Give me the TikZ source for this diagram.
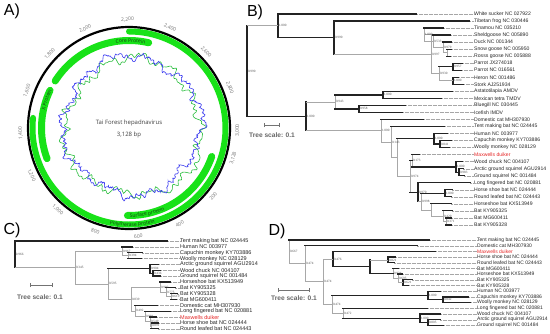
\documentclass[tikz,border=0pt]{standalone}
\usepackage{fontspec}
\setmainfont{Liberation Sans}
\newfontfamily\osans{Open Sans}
\newfontfamily\tser{Liberation Serif}
\usetikzlibrary{decorations.text}
\definecolor{gband}{RGB}{24,226,24}
\definecolor{gctext}{RGB}{20,60,20}
\definecolor{gcblue}{RGB}{60,60,240}
\definecolor{gcgreen}{RGB}{40,190,60}
\definecolor{brgray}{RGB}{168,168,168}
\definecolor{brdark}{RGB}{35,35,35}
\definecolor{duiker}{RGB}{230,40,40}
\newcommand{\Lf}[5]{\coordinate (#1) at (#2,#3);\node[lab] (#1t) at (#4,#3) {#5};\draw[leader] (#1) -- (#1t.west);}
\newcommand{\Tn}[6]{\draw[#4] (#1 |- #2) -- (#1 |- #3);\draw[#5] (#1 |- #2) -- (#2);\draw[#6] (#1 |- #3) -- (#3);}
\newcommand{\Bs}[2]{\node[bs] (#1b) at (#1) {#2};}
\begin{document}
\pgfmathsetseed{17}
\begin{tikzpicture}[x=1pt,y=-1pt,
  declare function={
    gb(\t)=68.5+3*cos(\t)+2.5*sin(\t)+2.4*sin(4*\t+40)+2.6*sin(11*\t+10)+1.9*sin(23*\t+70)+1.3*sin(41*\t)+1.0*sin(83*\t+20)+0.8*rand;
    gg(\t)=68+4.5*cos(\t)+3*sin(3*\t+200)+3.2*sin(13*\t+100)+1.9*sin(29*\t)+1.3*sin(57*\t+50)+0.9*sin(79*\t+30)+0.3*rand;},
  lab/.style={anchor=west, inner sep=0pt, font=\fontsize{5.1}{6}\selectfont, text=black!85},
  bs/.style={anchor=west, inner sep=0.4pt, xshift=0.4pt, font=\tser\fontsize{3.3}{4}\selectfont, text=black!70},
  lg/.style={brgray, line width=0.8pt, line cap=rect},
  dk/.style={brdark, line width=1.3pt, line cap=rect},
  leader/.style={black!35, line width=0.35pt, dash pattern=on 0.35pt off 0.9pt},
  scl/.style={font=\bfseries\fontsize{6.6}{7}\selectfont, text=black!60, inner sep=0pt},
  scb/.style={black!55, line width=0.7pt},
  panel/.style={font=\fontsize{16}{18}\selectfont, inner sep=0pt},
  tick/.style={font=\osans\fontsize{5}{6}\selectfont, text=black!55, inner sep=0pt},
  band/.style={gband, line cap=round}
]
\useasboundingbox (0,0) rectangle (550,333);
\fill[white] (0,0) rectangle (550,333);

% ---------------- Panel A ----------------
\node[panel] (pA) at (12,11) {A)};
\begin{scope}[shift={(129,128)}]
  \draw[gcgreen, line width=0.6pt] plot[domain=-180:180, samples=360] ({gg(\x)*cos(\x)},{-gg(\x)*sin(\x)});
  \draw[gcblue, line width=0.6pt] plot[domain=-180:180, samples=700] ({gb(\x)*cos(\x)},{-gb(\x)*sin(\x)});
  \draw[black, line width=2.2pt] (0,0) circle[radius=101pt];
  \draw[band, line width=6pt] (90:96.5pt) arc[start angle=90, end angle=-186, radius=96.5pt];
  \draw[band, line width=7pt] (147.5:87.5pt) arc[start angle=147.5, end angle=77, radius=87.5pt];
  \draw[band, line width=7pt] (200.5:87.5pt) arc[start angle=200.5, end angle=154.5, radius=87.5pt];
  \draw[band, line width=7pt] (-19:87.5pt) arc[start angle=-19, end angle=-91, radius=87.5pt];
  \path[decorate, decoration={text along path, text align=center, text color=gctext,
     text={|\osans\fontsize{5}{6}\selectfont|Core Protein}}]
     (119:85.8pt) arc[start angle=119, end angle=59, radius=85.8pt];
  \path[decorate, decoration={text along path, text align=center, text color=gctext,
     text={|\osans\fontsize{5}{6}\selectfont|X Protein}}]
     (191:85.8pt) arc[start angle=191, end angle=131, radius=85.8pt];
  \path[decorate, decoration={text along path, text align=center, text color=gctext,
     text={|\osans\fontsize{5}{6}\selectfont|Polymerase protein}}]
     (-128:98.2pt) arc[start angle=-128, end angle=-48, radius=98.2pt];
  \path[decorate, decoration={text along path, text align=center, text color=gctext,
     text={|\osans\fontsize{5}{6}\selectfont|Surface protein}}]
     (-108:89.3pt) arc[start angle=-108, end angle=-48, radius=89.3pt];
  \foreach \p/\t [count=\i] in {200/200,400/400,600/600,800/800,1000/{1,000},1200/{1,200},1400/{1,400},1600/{1,600},1800/{1,800},2000/{2,000},2200/{2,200},2400/{2,400},2600/{2,600},2800/{2,800},3000/{3,000},3128/{3,128}}{
    \pgfmathsetmacro\an{mod(-16-0.11509*\p+720,360)}
    \pgfmathsetmacro\rot{(\an>0 && \an<190) ? \an-90 : \an+90}
    \node[tick, rotate=\rot] (tk\i) at (\an:108.5pt) {\t};
  }
  \node[font=\osans\fontsize{6}{7}\selectfont, text=black!75, inner sep=0pt] (ttl) at (0,-5) {Tai Forest hepadnavirus};
  \node[font=\osans\fontsize{6}{7}\selectfont, text=black!75, inner sep=0pt] (tbp) at (0,7) {3,128 bp};
\end{scope}

% ---------------- Panel B ----------------
\node[panel] (pB) at (255,12.5) {B)};
\Lf{bwsk}{416}{14.0}{474}{White sucker NC 027922}
\Lf{btfr}{469}{21.0}{474}{Tibetan frog NC 030446}
\Lf{btin}{443}{28.1}{474}{Tinamou NC 035210}
\Lf{bshe}{450}{35.1}{474}{Sheldgoose NC 005890}
\Lf{bduc}{451}{42.1}{474}{Duck NC 001344}
\Lf{bsng}{451}{49.2}{474}{Snow goose NC 005950}
\Lf{brsg}{450}{56.2}{474}{Rosss goose NC 005888}
\Lf{bpa1}{462}{63.2}{474}{Parrot JX274018}
\Lf{bpa2}{461}{70.2}{474}{Parrot NC 016561}
\Lf{bher}{458}{77.3}{474}{Heron NC 001486}
\Lf{bsto}{463}{84.3}{474}{Stork AJ251934}
\Lf{bast}{452}{91.3}{474}{Astatotilapia AMDV}
\Lf{bmex}{441}{98.4}{474}{Mexican tetra TMDV}
\Lf{bblu}{405}{105.4}{474}{Bluegill NC 030445}
\Lf{bice}{402}{112.4}{474}{Icefish IMDV}
\Lf{bdca}{423}{119.5}{474}{Domestic cat MH307930}
\Lf{btmb}{444}{126.5}{474}{Tent making bat NC 024445}
\Lf{bhum}{447}{133.5}{474}{Human NC 003977}
\Lf{bcap}{451}{140.5}{474}{Capuchin monkey KY703886}
\Lf{bwoo}{449}{147.6}{474}{Woolly monkey NC 028129}
\Lf{bmax}{419}{154.6}{474}{\color{duiker}Maxwells duiker}
\Lf{bwch}{462}{161.6}{474}{Wood chuck NC 004107}
\Lf{barc}{463}{168.7}{474}{Arctic ground squirrel AGU2914}
\Lf{bgrs}{464}{175.7}{474}{Ground squirrel NC 001484}
\Lf{blfb}{470}{182.7}{474}{Long fingered bat NC 020881}
\Lf{bhsb}{452}{189.8}{474}{Horse shoe bat NC 024444}
\Lf{brlb}{451}{196.8}{474}{Round leafed bat NC 024443}
\Lf{bkx}{451}{203.8}{474}{Horseshoe bat KX513949}
\Lf{bb25}{452}{210.8}{474}{Bat KY905325}
\Lf{bb11}{451}{217.9}{474}{Bat MG600411}
\Lf{bb28}{451}{224.9}{474}{Bat KY905328}
\coordinate (bN4) at (447,52.7);
\coordinate (bN3) at (443,47.4);
\coordinate (bN2) at (433,41.3);
\coordinate (bN1) at (424,34.7);
\coordinate (bP) at (453,66.7);
\coordinate (bHS) at (453,80.8);
\coordinate (bPHS) at (439,73.8);
\coordinate (bN5) at (431,54.2);
\coordinate (bA2) at (334,37.6);
\coordinate (bA) at (278,25.8);
\coordinate (bFA) at (383,94.9);
\coordinate (bFB) at (359,108.9);
\coordinate (bF) at (335,101.9);
\coordinate (bPRc) at (440,144.1);
\coordinate (bPR) at (434,138.8);
\coordinate (bRo2) at (459,172.2);
\coordinate (bRo) at (456,166.9);
\coordinate (bN173) at (412,160.8);
\coordinate (bHR) at (445,193.3);
\coordinate (bQ371) at (446,221.4);
\coordinate (bQ420) at (443,216.1);
\coordinate (bKXB) at (431,210.0);
\coordinate (bN998) at (421,201.7);
\coordinate (bB1) at (418,192.2);
\coordinate (bN974) at (410,176.5);
\coordinate (bNr) at (397,157.7);
\coordinate (bN143) at (391,142.1);
\coordinate (bMm) at (381,130.8);
\coordinate (bM) at (306,116.4);
\coordinate (bR) at (247,71.1);
\Tn{bN4}{bsng}{brsg}{lg}{dk}{dk}
\Tn{bN3}{bduc}{bN4}{lg}{dk}{lg}
\Tn{bN2}{bshe}{bN3}{lg}{dk}{lg}
\Tn{bN1}{btin}{bN2}{lg}{dk}{lg}
\Tn{bP}{bpa1}{bpa2}{dk}{dk}{dk}
\Tn{bHS}{bher}{bsto}{dk}{dk}{dk}
\Tn{bPHS}{bP}{bHS}{lg}{dk}{lg}
\Tn{bN5}{bN1}{bPHS}{lg}{lg}{lg}
\Tn{bA2}{btfr}{bN5}{dk}{dk}{lg}
\Tn{bA}{bwsk}{bA2}{dk}{dk}{dk}
\Tn{bFA}{bast}{bmex}{dk}{dk}{dk}
\Tn{bFB}{bblu}{bice}{dk}{dk}{dk}
\Tn{bF}{bFA}{bFB}{lg}{dk}{dk}
\Tn{bPRc}{bcap}{bwoo}{dk}{dk}{dk}
\Tn{bPR}{bhum}{bPRc}{dk}{dk}{dk}
\Tn{bRo2}{barc}{bgrs}{dk}{dk}{dk}
\Tn{bRo}{bwch}{bRo2}{dk}{dk}{dk}
\Tn{bN173}{bmax}{bRo}{lg}{dk}{dk}
\Tn{bHR}{bhsb}{brlb}{dk}{dk}{dk}
\Tn{bQ371}{bb11}{bb28}{lg}{dk}{dk}
\Tn{bQ420}{bb25}{bQ371}{lg}{dk}{lg}
\Tn{bKXB}{bkx}{bQ420}{lg}{dk}{lg}
\Tn{bN998}{bHR}{bKXB}{lg}{dk}{lg}
\Tn{bB1}{blfb}{bN998}{dk}{dk}{lg}
\Tn{bN974}{bN173}{bB1}{lg}{dk}{dk}
\Tn{bNr}{bPR}{bN974}{lg}{dk}{lg}
\Tn{bN143}{btmb}{bNr}{lg}{dk}{lg}
\Tn{bMm}{bdca}{bN143}{lg}{dk}{lg}
\Tn{bM}{bF}{bMm}{dk}{lg}{lg}
\Tn{bR}{bA}{bM}{dk}{lg}{dk}
\Bs{bN3}{0.979}\Bs{bN2}{0.533}\Bs{bN1}{1.000}\Bs{bP}{0.957}\Bs{bHS}{1.000}
\Bs{bPHS}{0.930}\Bs{bN5}{0.997}\Bs{bA2}{0.990}\Bs{bA}{1.000}\Bs{bFA}{1.000}
\Bs{bFB}{0.958}\Bs{bF}{0.943}\Bs{bPRc}{0.841}\Bs{bPR}{1.000}\Bs{bRo2}{0.983}
\Bs{bRo}{1.000}\Bs{bN173}{0.173}\Bs{bHR}{1.000}\Bs{bQ371}{0.371}\Bs{bQ420}{0.420}
\Bs{bN998}{0.998}\Bs{bB1}{0.970}\Bs{bN974}{0.974}\Bs{bN143}{0.143}\Bs{bMm}{1.000}
\Bs{bM}{1.000}\Bs{bR}{0.990}
\coordinate (bs1) at (264,125);
\coordinate (bs2) at (279,125);
\draw[scb] (bs1) -- (bs2);
\draw[scb] ([yshift=-2pt]bs1) -- ([yshift=2pt]bs1);
\draw[scb] ([yshift=-2pt]bs2) -- ([yshift=2pt]bs2);
\node[scl] (bst) at (272,135) {Tree scale: 0.1};

% ---------------- Panel C ----------------
\node[panel] (pC) at (12,230.5) {C)};
\begin{scope}[lab/.style={anchor=west, inner sep=0pt, font=\fontsize{5.5}{6}\selectfont, text=black!85}]
\Lf{cTm}{167}{241.0}{180}{Tent making bat NC 024445}
\Lf{chu}{132}{246.9}{180}{Human NC 003977}
\Lf{cca}{142}{252.7}{180}{Capuchin monkey KY703886}
\Lf{cwo}{141}{258.6}{180}{Woolly monkey NC 028129}
\Lf{car}{158}{264.4}{180}{Arctic ground squirrel AGU2914}
\Lf{cwc}{160}{270.3}{180}{Wood chuck NC 004107}
\Lf{cgs}{160}{276.1}{180}{Ground squirrel NC 001484}
\Lf{ckx}{170}{282.0}{180}{Horseshoe bat KX513949}
\Lf{c25}{175}{287.8}{180}{Bat KY905325}
\Lf{c28}{177}{293.7}{180}{Bat KY905328}
\Lf{cmg}{176}{299.5}{180}{Bat MG600411}
\Lf{cdc}{157}{305.4}{180}{Domestic cat MH307930}
\Lf{clf}{170}{311.2}{180}{Long fingered bat NC 020881}
\Lf{cmx}{156}{317.1}{180}{\color{duiker}Maxwells duiker}
\Lf{chs}{158}{322.9}{180}{Horse shoe bat NC 024444}
\Lf{crl}{158}{328.8}{180}{Round leafed bat NC 024443}
\end{scope}
\coordinate (cPc) at (128,255.7);
\coordinate (cPm) at (122,251.3);
\coordinate (cR2) at (153,273.2);
\coordinate (cR1) at (150,268.8);
\coordinate (cK3) at (171,296.6);
\coordinate (cK2) at (166,292.2);
\coordinate (cK1) at (160,287.1);
\coordinate (cL4) at (151,325.9);
\coordinate (cL3) at (150,321.5);
\coordinate (cL2) at (145,316.3);
\coordinate (cL1) at (135,310.9);
\coordinate (cN839) at (131,299.0);
\coordinate (cN595) at (108,283.9);
\coordinate (cN345) at (75,267.6);
\coordinate (cR) at (15,254.3);
\Tn{cPc}{cca}{cwo}{lg}{dk}{dk}
\Tn{cPm}{chu}{cPc}{lg}{dk}{lg}
\Tn{cR2}{cwc}{cgs}{dk}{dk}{dk}
\Tn{cR1}{car}{cR2}{dk}{dk}{dk}
\Tn{cK3}{c28}{cmg}{lg}{dk}{dk}
\Tn{cK2}{c25}{cK3}{lg}{dk}{lg}
\Tn{cK1}{ckx}{cK2}{lg}{dk}{lg}
\Tn{cL4}{chs}{crl}{lg}{dk}{dk}
\Tn{cL3}{cmx}{cL4}{lg}{dk}{lg}
\Tn{cL2}{clf}{cL3}{lg}{dk}{lg}
\Tn{cL1}{cdc}{cL2}{lg}{dk}{lg}
\Tn{cN839}{cK1}{cL1}{lg}{lg}{lg}
\Tn{cN595}{cR1}{cN839}{lg}{dk}{lg}
\Tn{cN345}{cPm}{cN595}{lg}{lg}{lg}
\Tn{cR}{cTm}{cN345}{dk}{dk}{lg}
\Bs{cPc}{0.394}\Bs{cPm}{0.967}\Bs{cR2}{0.436}\Bs{cR1}{0.904}\Bs{cK3}{0.619}
\Bs{cK2}{0.775}\Bs{cK1}{0.992}\Bs{cL4}{0.891}\Bs{cL3}{0.549}\Bs{cL2}{0.981}
\Bs{cL1}{0.492}\Bs{cN839}{0.839}\Bs{cN595}{0.595}\Bs{cN345}{0.345}\Bs{cR}{0.966}
\coordinate (cs1) at (30,285);
\coordinate (cs2) at (52,285);
\draw[scb] (cs1) -- (cs2);
\draw[scb] ([yshift=-2pt]cs1) -- ([yshift=2pt]cs1);
\draw[scb] ([yshift=-2pt]cs2) -- ([yshift=2pt]cs2);
\node[scl] (cst) at (40,297) {Tree scale: 0.1};

% ---------------- Panel D ----------------
\node[panel] (pD) at (277,231) {D)};
\begin{scope}[lab/.style={anchor=west, inner sep=0pt, font=\fontsize{5}{6}\selectfont, text=black!85}]
\Lf{dTm}{429}{240.0}{477}{Tent making bat NC 024445}
\Lf{ddc}{417}{245.7}{477}{Domestic cat MH307930}
\Lf{dmx}{435}{251.4}{477}{\color{duiker}Maxwells duiker}
\Lf{dhs}{395}{257.1}{477}{Horse shoe bat NC 024444}
\Lf{drl}{394}{262.8}{477}{Round leafed bat NC 024443}
\Lf{dmg}{398}{268.5}{477}{Bat MG600411}
\Lf{dkx}{402}{274.1}{477}{Horseshoe bat KX513949}
\Lf{d25}{412}{279.8}{477}{Bat KY905325}
\Lf{d28}{408}{285.5}{477}{Bat KY905328}
\Lf{dhu}{440}{291.2}{477}{Human NC 003977}
\Lf{dca}{468}{296.9}{477}{Capuchin monkey KY703886}
\Lf{dwo}{470}{302.6}{477}{Woolly monkey NC 028129}
\Lf{dlf}{427}{308.3}{477}{Long fingered bat NC 020881}
\Lf{dwc}{440}{314.0}{477}{Wood chuck NC 004107}
\Lf{dar}{440}{319.7}{477}{Arctic ground squirrel AGU2914}
\Lf{dgs}{443}{325.4}{477}{Ground squirrel NC 001484}
\end{scope}
\coordinate (dHR) at (388,260.0);
\coordinate (dK3) at (403,282.7);
\coordinate (dK2) at (398,278.4);
\coordinate (dK1) at (393,273.5);
\coordinate (dNb) at (370,266.7);
\coordinate (dN476) at (333,259.1);
\coordinate (dPc) at (443,299.8);
\coordinate (dPR) at (428,295.5);
\coordinate (dRo2) at (428,322.6);
\coordinate (dRo) at (420,318.3);
\coordinate (dN472) at (343,313.3);
\coordinate (dN474) at (332,304.4);
\coordinate (dN323) at (323,281.8);
\coordinate (dNa) at (305,263.7);
\coordinate (dR) at (289,251.9);
\Tn{dHR}{dhs}{drl}{dk}{dk}{dk}
\Tn{dK3}{d25}{d28}{dk}{dk}{dk}
\Tn{dK2}{dkx}{dK3}{lg}{dk}{lg}
\Tn{dK1}{dmg}{dK2}{lg}{dk}{lg}
\Tn{dNb}{dHR}{dK1}{dk}{lg}{dk}
\Tn{dN476}{dmx}{dNb}{dk}{dk}{dk}
\Tn{dPc}{dca}{dwo}{dk}{dk}{dk}
\Tn{dPR}{dhu}{dPc}{dk}{dk}{dk}
\Tn{dRo2}{dar}{dgs}{dk}{dk}{dk}
\Tn{dRo}{dwc}{dRo2}{dk}{dk}{dk}
\Tn{dN472}{dlf}{dRo}{lg}{dk}{dk}
\Tn{dN474}{dPR}{dN472}{lg}{dk}{lg}
\Tn{dN323}{dN476}{dN474}{lg}{lg}{lg}
\Tn{dNa}{ddc}{dN323}{lg}{dk}{lg}
\Tn{dR}{dTm}{dNa}{lg}{dk}{lg}
\Bs{dHR}{0.821}\Bs{dK3}{0.621}\Bs{dK2}{0.695}\Bs{dK1}{0.934}\Bs{dN476}{0.476}
\Bs{dPc}{0.842}\Bs{dPR}{1.000}\Bs{dRo2}{0.805}\Bs{dRo}{1.000}\Bs{dN472}{0.472}
\Bs{dN474}{0.474}\Bs{dN323}{0.474}\Bs{dNa}{0.474}\Bs{dR}{0.667}
\coordinate (ds1) at (278,290);
\coordinate (ds2) at (309,290);
\draw[scb] (ds1) -- (ds2);
\draw[scb] ([yshift=-2pt]ds1) -- ([yshift=2pt]ds1);
\draw[scb] ([yshift=-2pt]ds2) -- ([yshift=2pt]ds2);
\node[scl] (dst) at (294,298) {Tree scale: 0.1};
\end{tikzpicture}
\end{document}
